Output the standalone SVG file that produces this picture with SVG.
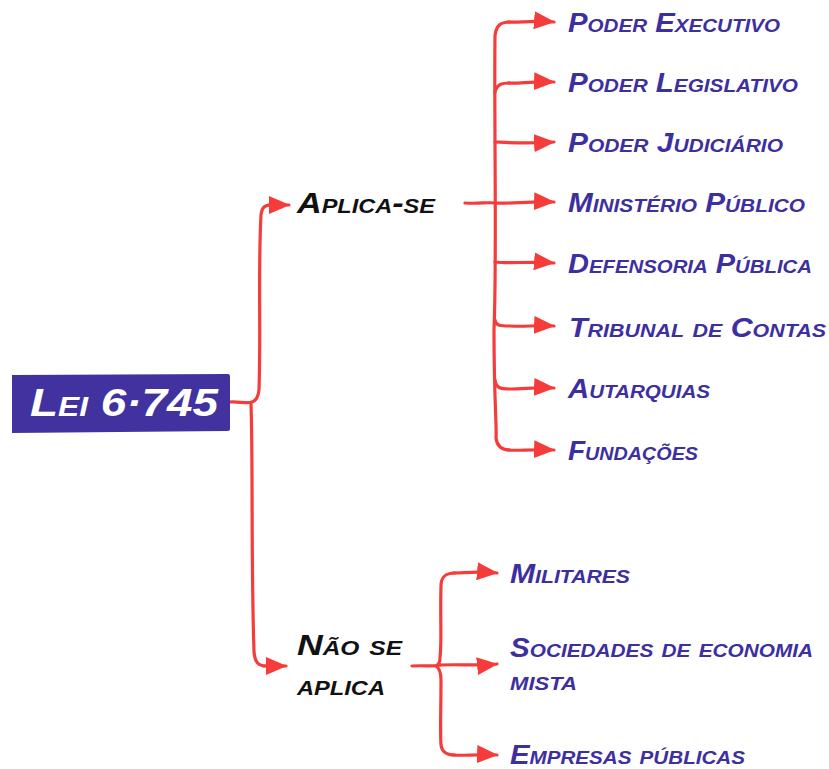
<svg xmlns="http://www.w3.org/2000/svg" width="829" height="769" viewBox="0 0 829 769">
<defs>
<marker id="ah" markerUnits="userSpaceOnUse" markerWidth="22" markerHeight="18" refX="20" refY="9" orient="auto">
<path d="M0,0 L21,9 L0,18 z" fill="#f53c3a"/>
</marker>
<style>
.c{fill:none;stroke:#f53c3a;stroke-width:3.2;stroke-linecap:round;stroke-linejoin:round}
.a{marker-end:url(#ah)}
.t{font-family:"Liberation Sans",Arial,sans-serif;font-style:italic;font-weight:bold;font-variant:small-caps}
.b{fill:#3d2f9e;font-size:27px}
.k{fill:#111;font-size:29px}
.w{fill:#fff;font-size:39px}
</style>
</defs>
<rect width="829" height="769" fill="#fff"/>
<g id="connectors">
<path class="c" d="M229,402 C238,401 246,404 252,402 C256,401 258,398 259,390 C261,330 258,270 261,215 C262,206 266,205 272,205" />
<path class="c a" d="M268,205 L289,205"/>
<path class="c" d="M251,404 C253,460 251,560 254,652 C255,662 258,666 266,666"/>
<path class="c a" d="M264,666 L286,666"/>
<path class="c" d="M465,203 C478,204 488,202 495,203"/>
<path class="c" d="M510,22 C500,22 496,26 495,36 C494,120 497,260 494,330 C494,400 497,430 496,438 C497,447 502,450 510,450"/>
<path class="c a" d="M508,22 C520,23 530,20 554,22"/>
<path class="c" d="M495,92 C497,84 502,83 510,83"/>
<path class="c a" d="M508,83 C520,84 530,81 554,82"/>
<path class="c a" d="M495,142 C500,142 520,144 554,142"/>
<path class="c a" d="M495,203 C510,204 530,201 554,202"/>
<path class="c a" d="M495,262 C510,264 530,261 554,263"/>
<path class="c a" d="M495,320 C496,326 500,326 510,326 C525,327 535,325 554,326"/>
<path class="c a" d="M495,380 C496,388 500,389 510,389 C525,389 535,387 554,388"/>
<path class="c a" d="M508,450 C520,451 530,449 554,450"/>
<path class="c" d="M412,666 C425,665 432,667 440,665"/>
<path class="c" d="M455,573 C445,573 441,577 441,586 C440,620 442,640 440,658 C440,662 438,665 436,666 C439,668 441,672 441,680 C441,710 440,730 441,745 C442,752 446,755 455,755"/>
<path class="c a" d="M453,573 C465,573 475,571 497,573"/>
<path class="c a" d="M440,665 C460,664 478,666 497,664"/>
<path class="c a" d="M453,755 C465,756 475,754 497,755"/>
</g>
<g id="root">
<path d="M12,375 L228,374 C230,374 230,376 230,378 L230,429 C230,431 228,431 226,431 L12,433 Z" fill="#4232a0"/>
<text class="t w" x="30" y="416" textLength="188" lengthAdjust="spacingAndGlyphs">Lei 6·745</text>
</g>
<g id="aplica-se"><text class="t k" x="297" y="213" textLength="138" lengthAdjust="spacingAndGlyphs">Aplica-se</text></g>
<g id="nao-se-aplica">
<text class="t k" x="297" y="655" textLength="105" lengthAdjust="spacingAndGlyphs">Não se</text>
<text class="t k" x="297" y="695" textLength="88" lengthAdjust="spacingAndGlyphs">aplica</text>
</g>
<g id="poder-executivo"><text class="t b" x="568" y="32" textLength="212" lengthAdjust="spacingAndGlyphs">Poder Executivo</text></g>
<g id="poder-legislativo"><text class="t b" x="568" y="92" textLength="230" lengthAdjust="spacingAndGlyphs">Poder Legislativo</text></g>
<g id="poder-judiciario"><text class="t b" x="568" y="152" textLength="215" lengthAdjust="spacingAndGlyphs">Poder Judiciário</text></g>
<g id="ministerio-publico"><text class="t b" x="568" y="212" textLength="237" lengthAdjust="spacingAndGlyphs">Ministério Público</text></g>
<g id="defensoria-publica"><text class="t b" x="568" y="273" textLength="244" lengthAdjust="spacingAndGlyphs">Defensoria Pública</text></g>
<g id="tribunal-de-contas"><text class="t b" x="569" y="337" textLength="257" lengthAdjust="spacingAndGlyphs">Tribunal de Contas</text></g>
<g id="autarquias"><text class="t b" x="568" y="398" textLength="142" lengthAdjust="spacingAndGlyphs">Autarquias</text></g>
<g id="fundacoes"><text class="t b" x="568" y="460" textLength="130" lengthAdjust="spacingAndGlyphs">Fundações</text></g>
<g id="militares"><text class="t b" x="510" y="583" textLength="120" lengthAdjust="spacingAndGlyphs">Militares</text></g>
<g id="sociedades">
<text class="t b" x="510" y="657" textLength="303" lengthAdjust="spacingAndGlyphs">Sociedades de economia</text>
<text class="t b" x="510" y="690" textLength="67" lengthAdjust="spacingAndGlyphs">mista</text>
</g>
<g id="empresas-publicas"><text class="t b" x="510" y="764" textLength="235" lengthAdjust="spacingAndGlyphs">Empresas públicas</text></g>
</svg>
